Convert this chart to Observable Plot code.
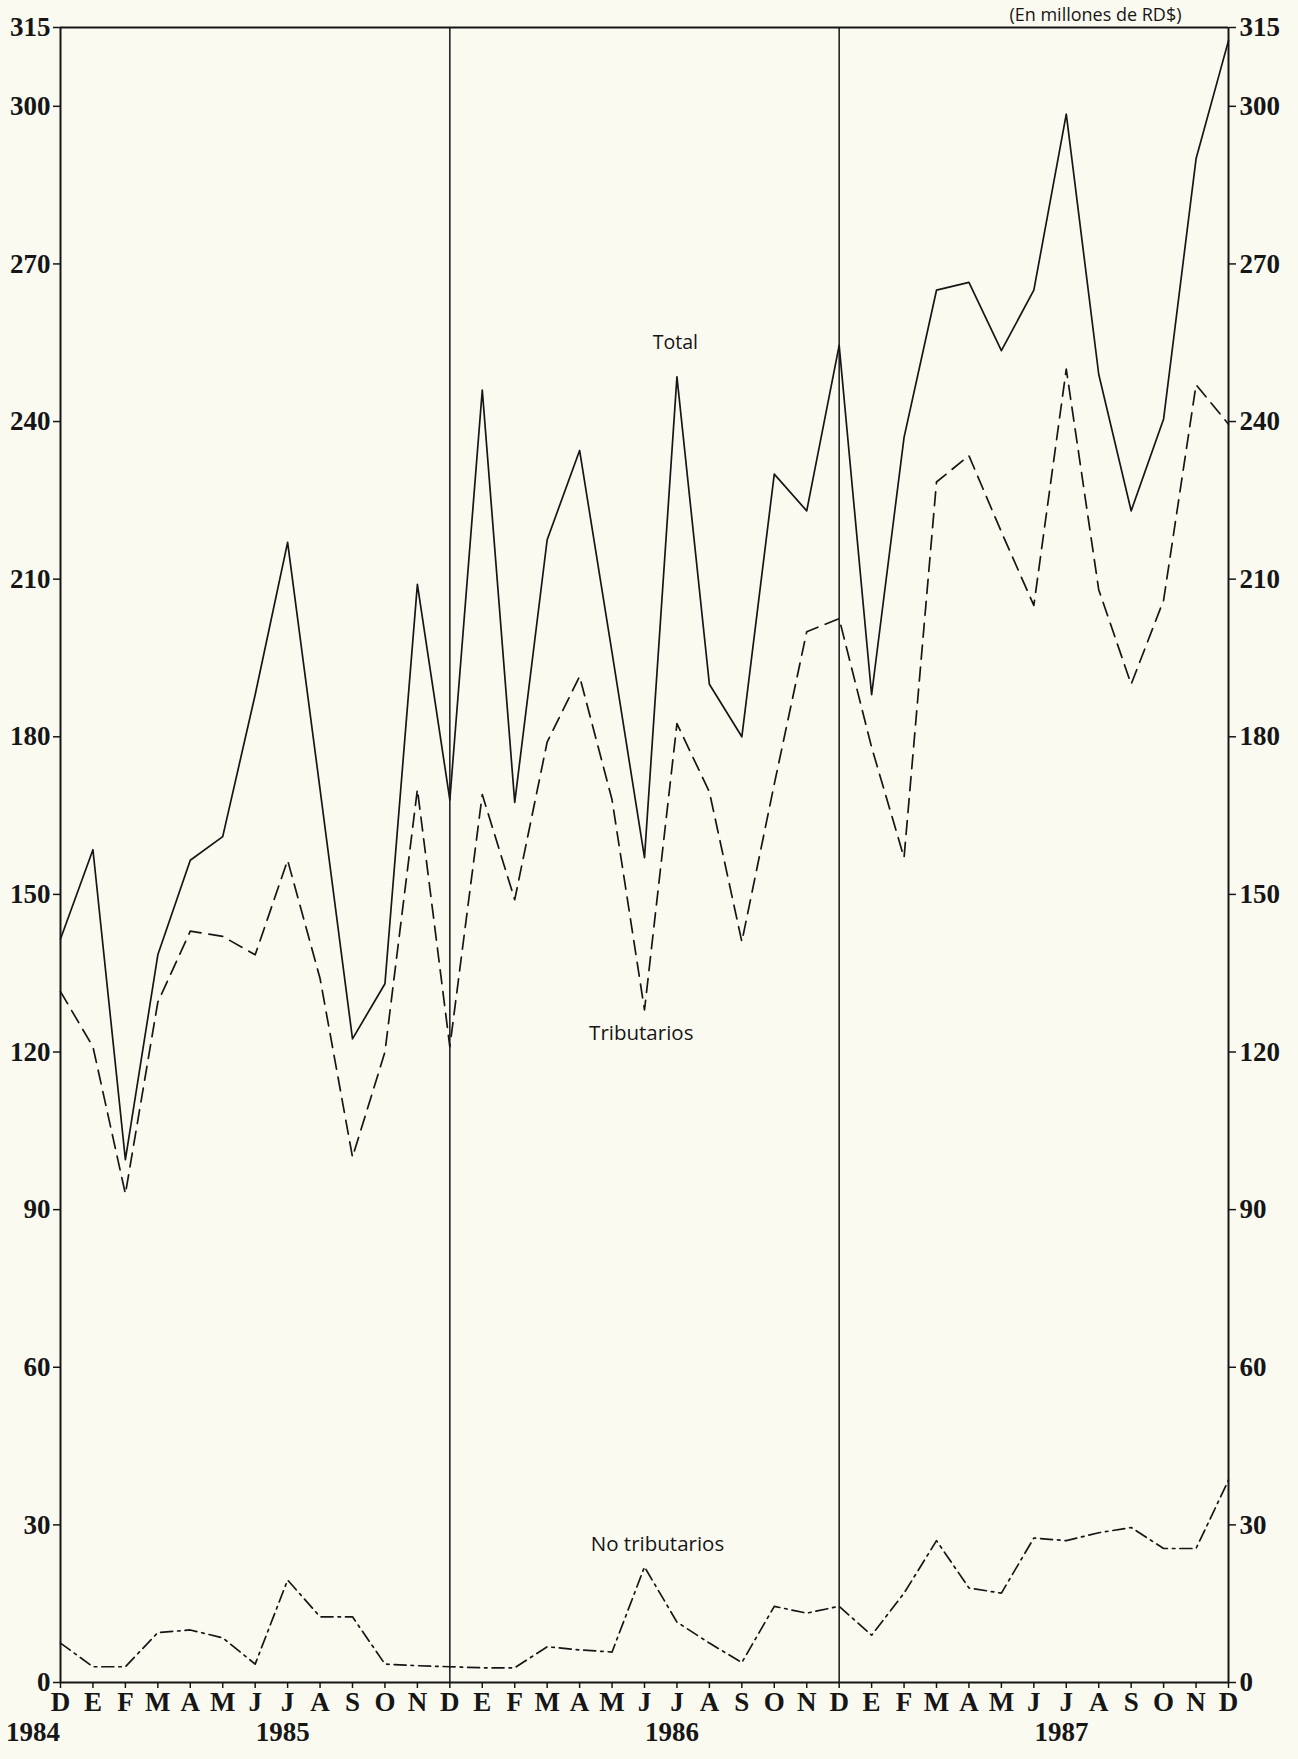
<!DOCTYPE html>
<html>
<head>
<meta charset="utf-8">
<script src="https://cdn.jsdelivr.net/npm/d3@7"></script>
<script src="https://cdn.jsdelivr.net/npm/@observablehq/plot@0.6"></script>
<style>
  html, body { margin: 0; padding: 0; background: #fbfaf1; }
  #chart svg { display: block; }
  #chart svg g[aria-label$="tick label"] text { font-weight: bold; }
</style>
</head>
<body>
<div id="chart"></div>
<script>
// Month labels (Dec 1984 .. Dec 1987)
const months = ["D","E","F","M","A","M","J","J","A","S","O","N",
                "D","E","F","M","A","M","J","J","A","S","O","N",
                "D","E","F","M","A","M","J","J","A","S","O","N","D"];
const years = ["1984", "1985", "1986", "1987"];

// Ingresos corrientes (millones de RD$)
const total = [141.5, 158.5, 99.5, 138.5, 156.5, 161, 188, 217, 170, 122.5, 133, 209,
               168, 246, 167.5, 217.5, 234.5, 196, 157, 248.5, 190, 180, 230, 223,
               254.5, 188, 237, 265, 266.5, 253.5, 265, 298.5, 249, 223, 240.5, 290, 312.5];
const tributarios = [131.5, 121, 93, 129.5, 143, 142, 138.5, 156.5, 134, 100, 120, 170,
                     121, 169, 149, 179, 191.5, 168, 128, 182.5, 169.5, 141, 171, 200,
                     202.5, 178, 157, 228.5, 233.5, 219, 205, 250, 208, 190, 206, 247, 239.5];
const noTributarios = [7.5, 3, 3, 9.5, 10, 8.5, 3.5, 19.5, 12.5, 12.5, 3.5, 3.2,
                       3, 2.8, 2.8, 6.8, 6.2, 5.8, 22, 11.5, 7.5, 3.8, 14.5, 13.2,
                       14.5, 9, 17, 27, 18, 17, 27.5, 27, 28.5, 29.5, 25.5, 25.5, 38.5];
const yTicks = [0, 30, 60, 90, 120, 150, 180, 210, 240, 270, 300, 315];

const rows = months.map((m, i) => ({
  i, month: m, total: total[i], trib: tributarios[i], notrib: noTributarios[i]
}));

const yearPos = [-0.85, 6.85, 18.85, 30.85];
const yearRows = years.map((y, k) => ({label: y, i: yearPos[k]}));

const ink = "#161616";
const sans = "'Open Sans', 'Noto Sans', sans-serif";

const chart = Plot.plot({
  width: 1298,
  height: 1759,
  marginTop: 27,
  marginBottom: 77,
  marginLeft: 60,
  marginRight: 70,
  style: {background: "#fbfaf1", color: ink, fontFamily: "'Liberation Serif', 'Times New Roman', serif"},
  x: {domain: [0, 36], axis: null},
  y: {domain: [0, 315], axis: null},
  marks: [
    Plot.axisY({anchor: "left", ticks: yTicks, tickSize: 7, tickPadding: 3, fontSize: 27,
                fontWeight: "bold", label: null, tickFormat: d => String(d), strokeWidth: 1.5}),
    Plot.axisY({anchor: "right", ticks: yTicks, tickSize: 7, tickPadding: 4, fontSize: 27,
                fontWeight: "bold", label: null, tickFormat: d => String(d), strokeWidth: 1.5}),
    Plot.axisX({ticks: d3.range(months.length), tickFormat: i => months[i], tickSize: 6,
                tickPadding: 3, fontSize: 27, fontWeight: "bold", label: null, strokeWidth: 1.5}),
    Plot.ruleX([0, 36], {stroke: ink, strokeWidth: 2}),
    Plot.ruleX([12, 24], {stroke: ink, strokeWidth: 1.5}),
    Plot.ruleY([0, 315], {stroke: ink, strokeWidth: 2}),
    Plot.line(rows, {x: "i", y: "total", stroke: ink, strokeWidth: 1.7}),
    Plot.line(rows, {x: "i", y: "trib", stroke: ink, strokeWidth: 1.7, strokeDasharray: "14,8"}),
    Plot.line(rows, {x: "i", y: "notrib", stroke: ink, strokeWidth: 1.7, strokeDasharray: "12,5,2.5,5"}),
    Plot.text(["Total"], {x: 18.95, y: 255, fontFamily: sans, fontSize: 19.5, fill: ink}),
    Plot.text(["Tributarios"], {x: 17.9, y: 123.6, fontFamily: sans, fontSize: 20.5, fill: ink}),
    Plot.text(["No tributarios"], {x: 18.4, y: 26.3, fontFamily: sans, fontSize: 20.5, fill: ink}),
    Plot.text(["(En millones de RD$)"], {x: 31.9, y: 315, dy: -12, fontFamily: sans, fontSize: 18, fill: ink}),
    Plot.text(yearRows, {x: "i", y: 0, text: "label", dy: 50, fontSize: 27, fontWeight: "bold", fill: ink})
  ]
});

document.getElementById("chart").appendChild(chart);
</script>
</body>
</html>
